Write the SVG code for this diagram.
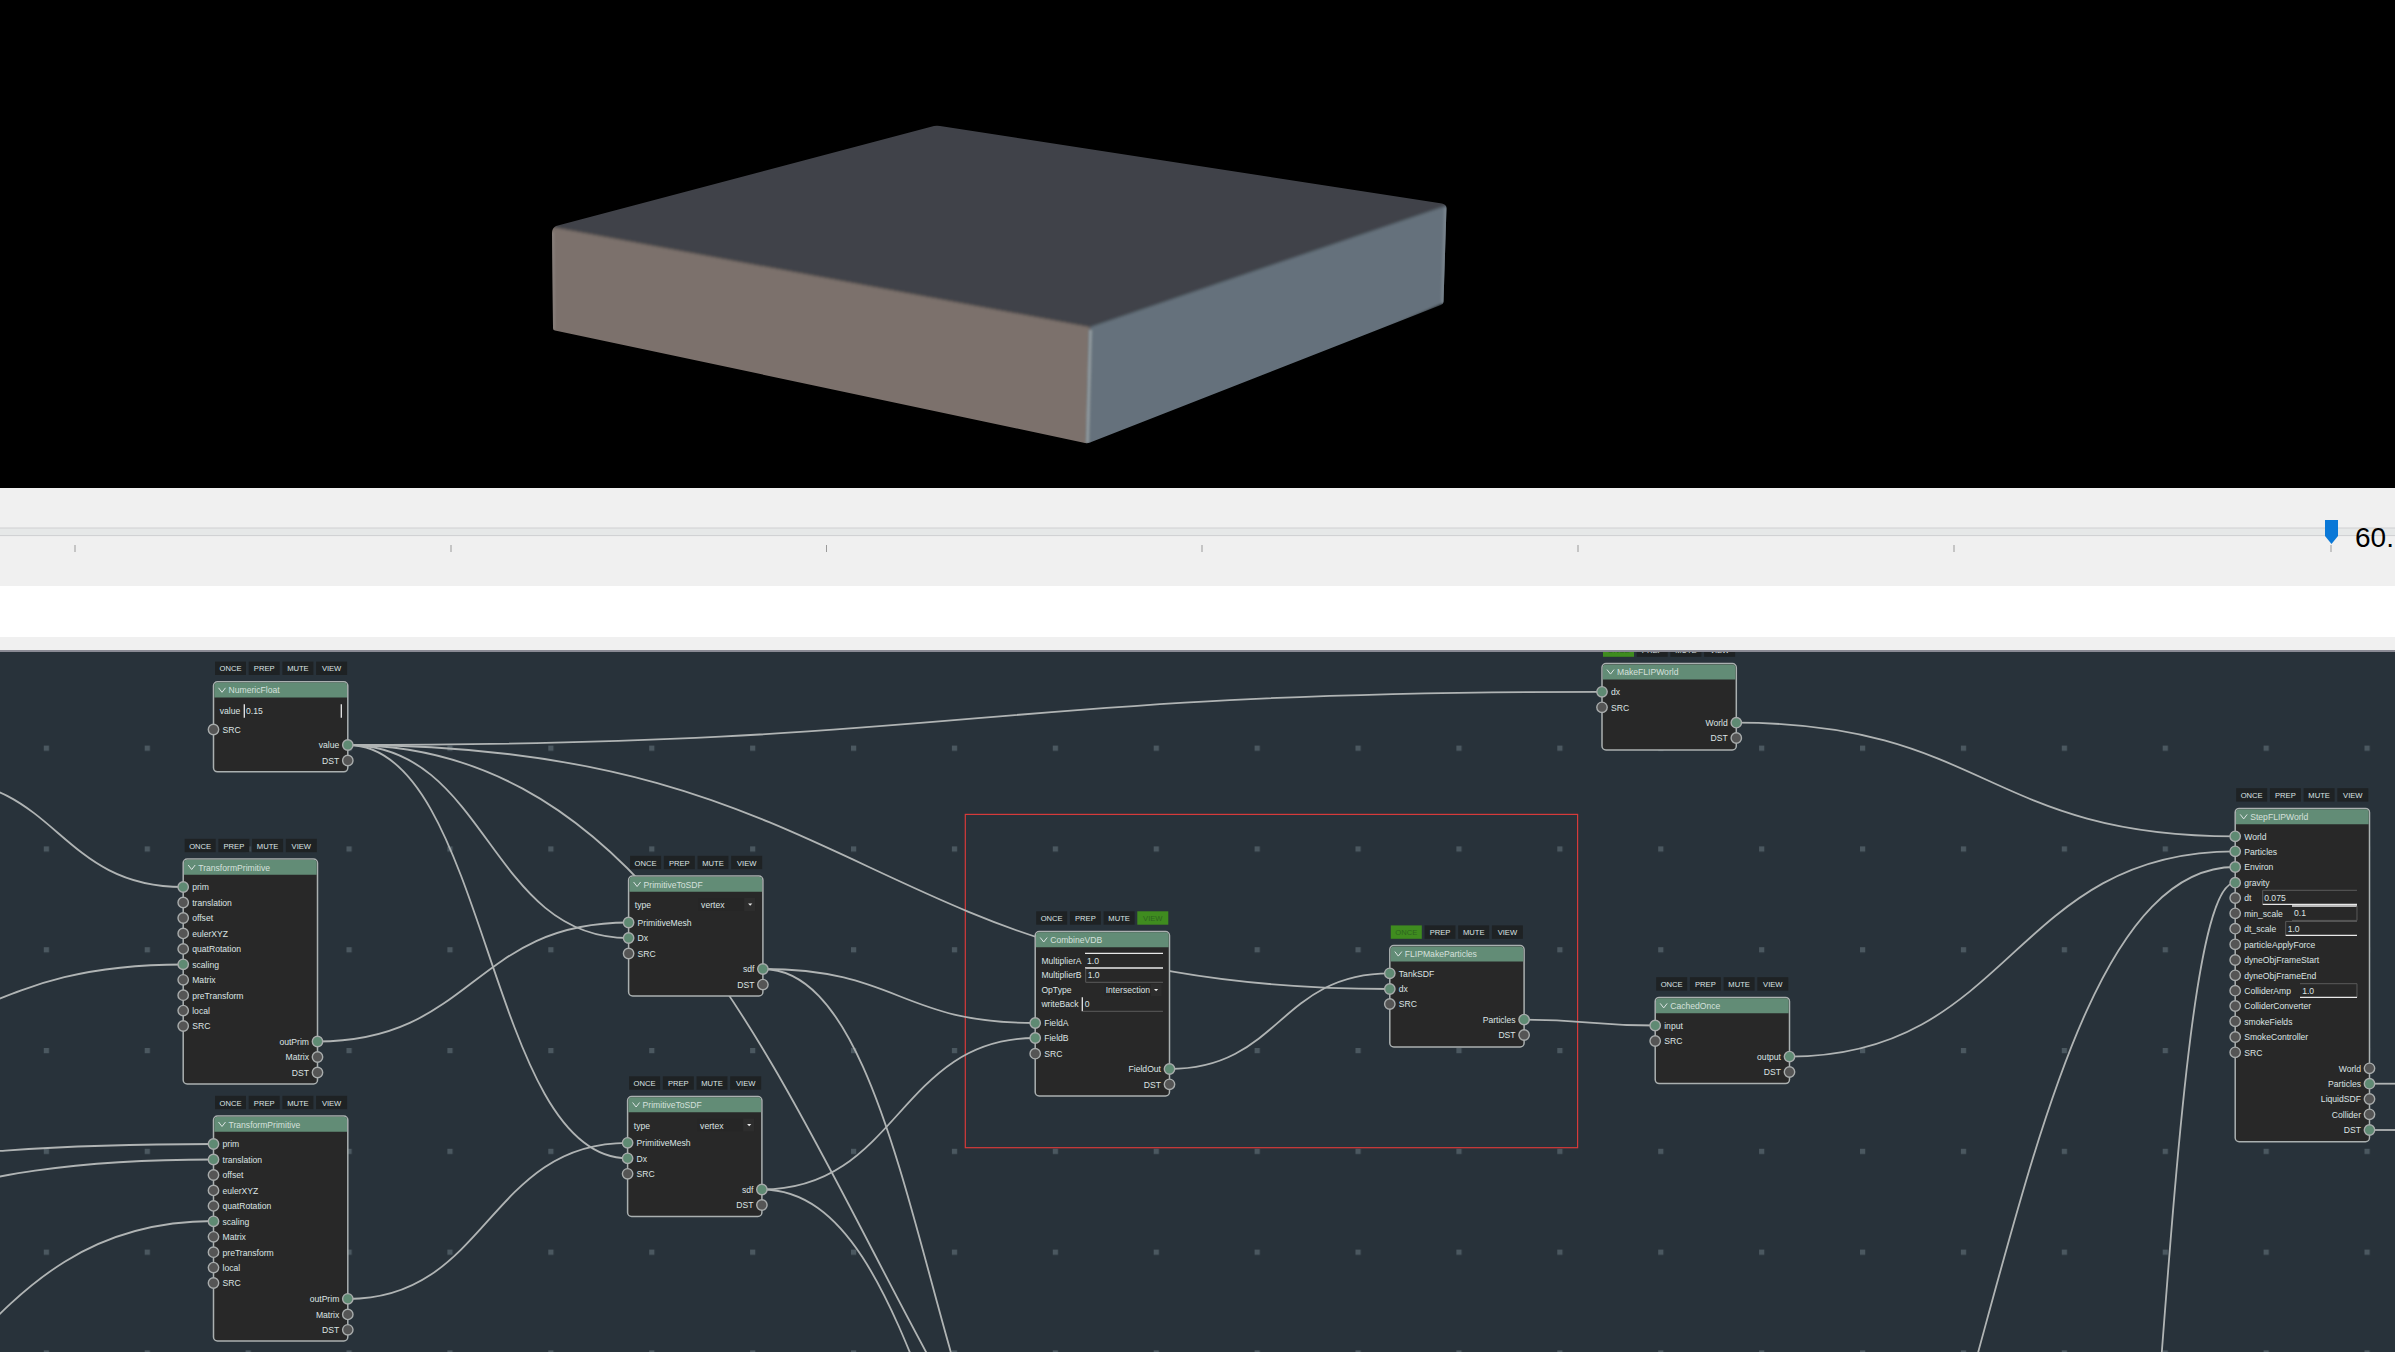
<svg xmlns="http://www.w3.org/2000/svg" width="2395" height="1352" viewBox="0 0 2395 1352">
<style>
text{font-family:"Liberation Sans",Arial,sans-serif;font-size:8.6px;fill:#dde4e4}
.btn{fill:#1e2224}.on{fill:#3f8c1f}
.bt{font-size:7.6px;text-anchor:middle}.bg{fill:#2e6420}
.body{fill:#282828;stroke:#aab0b0;stroke-width:1.5}
.head{fill:#628c76}
.hc{fill:none;stroke:#dde4e4;stroke-width:1}
.ht{fill:#d5e0dc}
.p{fill:#555;stroke:#a8acac;stroke-width:1.4}
.a{fill:#5f8a73;stroke:#a8acac;stroke-width:1.4}
.r{text-anchor:end}
.w{stroke:#e8e8e8;stroke-width:1.3;fill:none}
.g{stroke:#5a5a5a;stroke-width:1;fill:none}
.dd{fill:#262626;stroke:none}
.da{fill:#2d2d2d}
.ar{fill:#e8e8e8}
.e{fill:none;stroke:#b0b4b4;stroke-width:1.8}
.tick{stroke:#9a9a9a;stroke-width:1}
</style>
<defs>
<pattern id="dots" patternUnits="userSpaceOnUse" x="43.8" y="40" width="100.9" height="100.8"><rect width="5.2" height="5.2" fill="#4b5860"/></pattern>
<filter id="soft" x="-5%" y="-5%" width="110%" height="110%"><feGaussianBlur stdDeviation="1.8"/></filter>
<filter id="rim" x="-20%" y="-5%" width="140%" height="110%"><feGaussianBlur stdDeviation="0.9"/></filter>
<clipPath id="sil"><path d="M552,233Q552,228 556,226L934,126Q937,125.5 940,126L1442,203.5Q1446.5,204.5 1446.5,208L1443.5,302Q1443.5,304 1441,305L1090,442.5Q1087.5,443.5 1085,443L555,330.5Q553,330 553,328Z"/></clipPath>
</defs>

<rect id="viewport" x="0" y="0" width="2395" height="490" fill="#000"/>
<g id="box" clip-path="url(#sil)">
<g filter="url(#soft)">
<polygon points="540,224.4 1090,326.7 1087,460 540,345" fill="#7b716c"/>
<polygon points="1090,326.7 1475,195.4 1475,290 1087,460" fill="#65717b"/>
<polygon points="937,100 1475,195.4 1090,326.7 535,223.5" fill="#40434a"/>
</g>
<g filter="url(#rim)" fill="none">
<path d="M1090.5,330L1087.5,443" stroke="#8d979c" stroke-width="3.5"/>
<path d="M553,232L554,330" stroke="#8c8480" stroke-width="2"/>
<path d="M1445.5,208L1442.5,303" stroke="#7a858e" stroke-width="3"/>
</g>
</g>

<g id="canvas">
<rect x="0" y="652" width="2395" height="700" fill="#28323a"/>
<rect x="0" y="652" width="2395" height="700" fill="url(#dots)"/>
<rect id="frame" x="965.3" y="814.4" width="612.3" height="333.3" fill="none" stroke="#d63a3a" stroke-width="1.2"/>

<g id="connectors">
<path class="e" d="M348,745C975,745 975,691.8 1602,691.8"/>
<path class="e" d="M348,745C488.3,745 488.3,938 628.6,938"/>
<path class="e" d="M348,745C487.8,745 487.8,1158.3 627.6,1158.3"/>
<path class="e" d="M348,745C868.9,745 868.9,989 1389.8,989"/>
<path class="e" d="M348,745C874,745 874,1761 1400,1761"/>
<path class="e" d="M762.8,969C899,969 899,1023 1035.2,1023"/>
<path class="e" d="M762.8,969C931.4,969 931.4,1594 1100,1594"/>
<path class="e" d="M761.7,1189.5C898.5,1189.5 898.5,1038 1035.2,1038"/>
<path class="e" d="M761.7,1189.5C930.9,1189.5 930.9,1620 1100,1620"/>
<path class="e" d="M1169.5,1069C1279.7,1069 1279.7,973.3 1389.8,973.3"/>
<path class="e" d="M1524,1019.6C1589.6,1019.6 1589.6,1025.5 1655.2,1025.5"/>
<path class="e" d="M1789.4,1056.6C2012.3,1056.6 2012.3,851.3 2235.2,851.3"/>
<path class="e" d="M1736.3,722.7C1985.8,722.7 1985.8,836.3 2235.2,836.3"/>
<path class="e" d="M1735,1787C1985,1787 1985,867 2235.2,867"/>
<path class="e" d="M2085,1868C2160,1868 2160,882.7 2235.2,882.7"/>
<path class="e" d="M317.3,1041.5C473,1041.5 473,922.5 628.6,922.5"/>
<path class="e" d="M348,1299C487.8,1299 487.8,1142.8 627.6,1142.8"/>
<path class="e" d="M-67,779C58,779 58,887 183.2,887"/>
<path class="e" d="M-217,1046C-17,1046 -17,964.5 183.2,964.5"/>
<path class="e" d="M-487,1186C-137,1186 -137,1144 213.5,1144"/>
<path class="e" d="M-387,1231C-87,1231 -87,1159.5 213.5,1159.5"/>
<path class="e" d="M-287,1481C-37,1481 -37,1221 213.5,1221"/>
<path class="e" d="M2369.5,1083.7H2395"/>
<path class="e" d="M2369.5,1130H2395"/>
</g>

<g id="NumericFloat" transform="translate(213.5 681.8)">
<rect class="btn" x="1.5" y="-20.2" width="31" height="13.4"/><text class="bt" x="17" y="-10.4">ONCE</text>
<rect class="btn" x="35.2" y="-20.2" width="31" height="13.4"/><text class="bt" x="50.7" y="-10.4">PREP</text>
<rect class="btn" x="68.9" y="-20.2" width="31" height="13.4"/><text class="bt" x="84.4" y="-10.4">MUTE</text>
<rect class="btn" x="102.6" y="-20.2" width="31" height="13.4"/><text class="bt" x="118.1" y="-10.4">VIEW</text>
<rect class="body" width="134.3" height="90" rx="4"/>
<path class="head" d="M.8,15.8V4A3.2,3.2 0 0 1 4,.8H130.3A3.2,3.2 0 0 1 133.5,4V15.8Z"/>
<path class="hc" d="M5,6L8.5,10.5L12,6"/><text class="ht" x="15" y="11.5">NumericFloat</text>
<text x="6.2" y="32.5">value</text>
<path class="w" d="M30.8,22.5V36M127.8,22.5V36"/><text x="32.5" y="32.5">0.15</text>
<circle class="p" cx="0" cy="47.7" r="5.2"/><text x="9" y="51">SRC</text>
<circle class="a" cx="134.3" cy="63.2" r="5.2"/><text class="r" x="125.8" y="66.5">value</text>
<circle class="p" cx="134.3" cy="78.7" r="5.2"/><text class="r" x="125.8" y="82">DST</text>
</g>

<g id="TransformPrimitive1" transform="translate(183.2 859)">
<rect class="btn" x="1.5" y="-20.2" width="31" height="13.4"/><text class="bt" x="17" y="-10.4">ONCE</text>
<rect class="btn" x="35.2" y="-20.2" width="31" height="13.4"/><text class="bt" x="50.7" y="-10.4">PREP</text>
<rect class="btn" x="68.9" y="-20.2" width="31" height="13.4"/><text class="bt" x="84.4" y="-10.4">MUTE</text>
<rect class="btn" x="102.6" y="-20.2" width="31" height="13.4"/><text class="bt" x="118.1" y="-10.4">VIEW</text>
<rect class="body" width="134.3" height="225" rx="4"/>
<path class="head" d="M.8,15.8V4A3.2,3.2 0 0 1 4,.8H130.3A3.2,3.2 0 0 1 133.5,4V15.8Z"/>
<path class="hc" d="M5,6L8.5,10.5L12,6"/><text class="ht" x="15" y="11.5">TransformPrimitive</text>
<circle class="a" cx="0" cy="28" r="5.2"/><text x="9" y="31.3">prim</text>
<circle class="p" cx="0" cy="43.5" r="5.2"/><text x="9" y="46.8">translation</text>
<circle class="p" cx="0" cy="59" r="5.2"/><text x="9" y="62.3">offset</text>
<circle class="p" cx="0" cy="74.4" r="5.2"/><text x="9" y="77.7">eulerXYZ</text>
<circle class="p" cx="0" cy="89.9" r="5.2"/><text x="9" y="93.2">quatRotation</text>
<circle class="a" cx="0" cy="105.3" r="5.2"/><text x="9" y="108.6">scaling</text>
<circle class="p" cx="0" cy="120.8" r="5.2"/><text x="9" y="124.1">Matrix</text>
<circle class="p" cx="0" cy="136.2" r="5.2"/><text x="9" y="139.5">preTransform</text>
<circle class="p" cx="0" cy="151.6" r="5.2"/><text x="9" y="154.9">local</text>
<circle class="p" cx="0" cy="167" r="5.2"/><text x="9" y="170.3">SRC</text>
<circle class="a" cx="134.3" cy="182.5" r="5.2"/><text class="r" x="125.8" y="185.8">outPrim</text>
<circle class="p" cx="134.3" cy="198" r="5.2"/><text class="r" x="125.8" y="201.3">Matrix</text>
<circle class="p" cx="134.3" cy="213.5" r="5.2"/><text class="r" x="125.8" y="216.8">DST</text>
</g>

<g id="TransformPrimitive2" transform="translate(213.5 1116)">
<rect class="btn" x="1.5" y="-20.2" width="31" height="13.4"/><text class="bt" x="17" y="-10.4">ONCE</text>
<rect class="btn" x="35.2" y="-20.2" width="31" height="13.4"/><text class="bt" x="50.7" y="-10.4">PREP</text>
<rect class="btn" x="68.9" y="-20.2" width="31" height="13.4"/><text class="bt" x="84.4" y="-10.4">MUTE</text>
<rect class="btn" x="102.6" y="-20.2" width="31" height="13.4"/><text class="bt" x="118.1" y="-10.4">VIEW</text>
<rect class="body" width="134.3" height="225" rx="4"/>
<path class="head" d="M.8,15.8V4A3.2,3.2 0 0 1 4,.8H130.3A3.2,3.2 0 0 1 133.5,4V15.8Z"/>
<path class="hc" d="M5,6L8.5,10.5L12,6"/><text class="ht" x="15" y="11.5">TransformPrimitive</text>
<circle class="a" cx="0" cy="28" r="5.2"/><text x="9" y="31.3">prim</text>
<circle class="a" cx="0" cy="43.5" r="5.2"/><text x="9" y="46.8">translation</text>
<circle class="p" cx="0" cy="59" r="5.2"/><text x="9" y="62.3">offset</text>
<circle class="p" cx="0" cy="74.4" r="5.2"/><text x="9" y="77.7">eulerXYZ</text>
<circle class="p" cx="0" cy="89.9" r="5.2"/><text x="9" y="93.2">quatRotation</text>
<circle class="a" cx="0" cy="105.3" r="5.2"/><text x="9" y="108.6">scaling</text>
<circle class="p" cx="0" cy="120.8" r="5.2"/><text x="9" y="124.1">Matrix</text>
<circle class="p" cx="0" cy="136.2" r="5.2"/><text x="9" y="139.5">preTransform</text>
<circle class="p" cx="0" cy="151.6" r="5.2"/><text x="9" y="154.9">local</text>
<circle class="p" cx="0" cy="167" r="5.2"/><text x="9" y="170.3">SRC</text>
<circle class="a" cx="134.3" cy="182.8" r="5.2"/><text class="r" x="125.8" y="186.1">outPrim</text>
<circle class="p" cx="134.3" cy="198.4" r="5.2"/><text class="r" x="125.8" y="201.7">Matrix</text>
<circle class="p" cx="134.3" cy="213.8" r="5.2"/><text class="r" x="125.8" y="217.1">DST</text>
</g>

<g id="PrimitiveToSDF1" transform="translate(628.6 876)">
<rect class="btn" x="1.5" y="-20.2" width="31" height="13.4"/><text class="bt" x="17" y="-10.4">ONCE</text>
<rect class="btn" x="35.2" y="-20.2" width="31" height="13.4"/><text class="bt" x="50.7" y="-10.4">PREP</text>
<rect class="btn" x="68.9" y="-20.2" width="31" height="13.4"/><text class="bt" x="84.4" y="-10.4">MUTE</text>
<rect class="btn" x="102.6" y="-20.2" width="31" height="13.4"/><text class="bt" x="118.1" y="-10.4">VIEW</text>
<rect class="body" width="134.3" height="120" rx="4"/>
<path class="head" d="M.8,15.8V4A3.2,3.2 0 0 1 4,.8H130.3A3.2,3.2 0 0 1 133.5,4V15.8Z"/>
<path class="hc" d="M5,6L8.5,10.5L12,6"/><text class="ht" x="15" y="11.5">PrimitiveToSDF</text>
<text x="6.2" y="32">type</text>
<rect class="dd" x="69.5" y="22" width="57" height="13"/><rect class="da" x="115.5" y="22" width="11" height="13"/>
<text x="72.5" y="32">vertex</text><path class="ar" d="M119.5,27.5h4.2l-2.1,2.3z"/>
<circle class="a" cx="0" cy="46.5" r="5.2"/><text x="9" y="49.8">PrimitiveMesh</text>
<circle class="a" cx="0" cy="62" r="5.2"/><text x="9" y="65.3">Dx</text>
<circle class="p" cx="0" cy="77.5" r="5.2"/><text x="9" y="80.8">SRC</text>
<circle class="a" cx="134.3" cy="93" r="5.2"/><text class="r" x="125.8" y="96.3">sdf</text>
<circle class="p" cx="134.3" cy="108.6" r="5.2"/><text class="r" x="125.8" y="111.9">DST</text>
</g>

<g id="PrimitiveToSDF2" transform="translate(627.6 1096.5)">
<rect class="btn" x="1.5" y="-20.2" width="31" height="13.4"/><text class="bt" x="17" y="-10.4">ONCE</text>
<rect class="btn" x="35.2" y="-20.2" width="31" height="13.4"/><text class="bt" x="50.7" y="-10.4">PREP</text>
<rect class="btn" x="68.9" y="-20.2" width="31" height="13.4"/><text class="bt" x="84.4" y="-10.4">MUTE</text>
<rect class="btn" x="102.6" y="-20.2" width="31" height="13.4"/><text class="bt" x="118.1" y="-10.4">VIEW</text>
<rect class="body" width="134.3" height="120" rx="4"/>
<path class="head" d="M.8,15.8V4A3.2,3.2 0 0 1 4,.8H130.3A3.2,3.2 0 0 1 133.5,4V15.8Z"/>
<path class="hc" d="M5,6L8.5,10.5L12,6"/><text class="ht" x="15" y="11.5">PrimitiveToSDF</text>
<text x="6.2" y="32">type</text>
<rect class="dd" x="69.5" y="22" width="57" height="13"/><rect class="da" x="115.5" y="22" width="11" height="13"/>
<text x="72.5" y="32">vertex</text><path class="ar" d="M119.5,27.5h4.2l-2.1,2.3z"/>
<circle class="a" cx="0" cy="46.3" r="5.2"/><text x="9" y="49.6">PrimitiveMesh</text>
<circle class="a" cx="0" cy="61.8" r="5.2"/><text x="9" y="65.1">Dx</text>
<circle class="p" cx="0" cy="77.3" r="5.2"/><text x="9" y="80.6">SRC</text>
<circle class="a" cx="134.3" cy="93" r="5.2"/><text class="r" x="125.8" y="96.3">sdf</text>
<circle class="p" cx="134.3" cy="108.5" r="5.2"/><text class="r" x="125.8" y="111.8">DST</text>
</g>

<g id="CombineVDB" transform="translate(1035.2 931.5)">
<rect class="btn" x="1" y="-20.2" width="31" height="13.4"/><text class="bt" x="16.5" y="-10.4">ONCE</text>
<rect class="btn" x="34.7" y="-20.2" width="31" height="13.4"/><text class="bt" x="50.2" y="-10.4">PREP</text>
<rect class="btn" x="68.4" y="-20.2" width="31" height="13.4"/><text class="bt" x="83.9" y="-10.4">MUTE</text>
<rect class="on" x="102.1" y="-20.2" width="31" height="13.4"/><text class="bt bg" x="117.6" y="-10.4">VIEW</text>
<rect class="body" width="134.3" height="164.5" rx="4"/>
<path class="head" d="M.8,15.8V4A3.2,3.2 0 0 1 4,.8H130.3A3.2,3.2 0 0 1 133.5,4V15.8Z"/>
<path class="hc" d="M5,6L8.5,10.5L12,6"/><text class="ht" x="15" y="11.5">CombineVDB</text>
<text x="6.2" y="32.2">MultiplierA</text><text x="6.2" y="46.5">MultiplierB</text><text x="6.2" y="61.8">OpType</text><text x="6.2" y="75.5">writeBack</text>
<path class="w" d="M49.8,21.8H127.8"/><path class="w" d="M49.8,36.5H127.8" stroke-width="1.8"/><text x="51.8" y="32.2">1.0</text>
<path class="g" d="M50.5,37V50.8H127.8"/><text x="52.5" y="46.5">1.0</text>
<rect class="dd" x="69.5" y="52.5" width="57" height="12"/><rect class="da" x="115.5" y="52.5" width="11" height="12"/>
<text x="70.5" y="61.8">Intersection</text><path class="ar" d="M118.8,57.5h4.2l-2.1,2.3z"/>
<path class="w" d="M47.1,65.8V79.8"/><path class="g" d="M47.6,79.8H127.8"/><text x="49.5" y="75.5">0</text>
<circle class="a" cx="0" cy="91.5" r="5.2"/><text x="9" y="94.8">FieldA</text>
<circle class="a" cx="0" cy="106.5" r="5.2"/><text x="9" y="109.8">FieldB</text>
<circle class="p" cx="0" cy="122.2" r="5.2"/><text x="9" y="125.5">SRC</text>
<circle class="a" cx="134.3" cy="137.5" r="5.2"/><text class="r" x="125.8" y="140.8">FieldOut</text>
<circle class="p" cx="134.3" cy="152.8" r="5.2"/><text class="r" x="125.8" y="156.1">DST</text>
</g>

<g id="FLIPMakeParticles" transform="translate(1389.8 945.6)">
<rect class="on" x="1" y="-20.2" width="31" height="13.4"/><text class="bt bg" x="16.5" y="-10.4">ONCE</text>
<rect class="btn" x="34.7" y="-20.2" width="31" height="13.4"/><text class="bt" x="50.2" y="-10.4">PREP</text>
<rect class="btn" x="68.4" y="-20.2" width="31" height="13.4"/><text class="bt" x="83.9" y="-10.4">MUTE</text>
<rect class="btn" x="102.1" y="-20.2" width="31" height="13.4"/><text class="bt" x="117.6" y="-10.4">VIEW</text>
<rect class="body" width="134.3" height="101.4" rx="4"/>
<path class="head" d="M.8,15.8V4A3.2,3.2 0 0 1 4,.8H130.3A3.2,3.2 0 0 1 133.5,4V15.8Z"/>
<path class="hc" d="M5,6L8.5,10.5L12,6"/><text class="ht" x="15" y="11.5">FLIPMakeParticles</text>
<circle class="a" cx="0" cy="27.7" r="5.2"/><text x="9" y="31">TankSDF</text>
<circle class="a" cx="0" cy="43.4" r="5.2"/><text x="9" y="46.7">dx</text>
<circle class="p" cx="0" cy="58.4" r="5.2"/><text x="9" y="61.7">SRC</text>
<circle class="a" cx="134.3" cy="74" r="5.2"/><text class="r" x="125.8" y="77.3">Particles</text>
<circle class="p" cx="134.3" cy="89.4" r="5.2"/><text class="r" x="125.8" y="92.7">DST</text>
</g>

<g id="MakeFLIPWorld" transform="translate(1602 663.6)">
<rect class="on" x="1" y="-20.2" width="31" height="13.4"/><text class="bt bg" x="16.5" y="-10.4">ONCE</text>
<rect class="btn" x="34.7" y="-20.2" width="31" height="13.4"/><text class="bt" x="50.2" y="-10.4">PREP</text>
<rect class="btn" x="68.4" y="-20.2" width="31" height="13.4"/><text class="bt" x="83.9" y="-10.4">MUTE</text>
<rect class="btn" x="102.1" y="-20.2" width="31" height="13.4"/><text class="bt" x="117.6" y="-10.4">VIEW</text>
<rect class="body" width="134.3" height="86.4" rx="4"/>
<path class="head" d="M.8,15.8V4A3.2,3.2 0 0 1 4,.8H130.3A3.2,3.2 0 0 1 133.5,4V15.8Z"/>
<path class="hc" d="M5,6L8.5,10.5L12,6"/><text class="ht" x="15" y="11.5">MakeFLIPWorld</text>
<circle class="a" cx="0" cy="28.2" r="5.2"/><text x="9" y="31.5">dx</text>
<circle class="p" cx="0" cy="43.7" r="5.2"/><text x="9" y="47">SRC</text>
<circle class="a" cx="134.3" cy="59.1" r="5.2"/><text class="r" x="125.8" y="62.4">World</text>
<circle class="p" cx="134.3" cy="74.4" r="5.2"/><text class="r" x="125.8" y="77.7">DST</text>
</g>

<g id="CachedOnce" transform="translate(1655.2 997.4)">
<rect class="btn" x="1" y="-20.2" width="31" height="13.4"/><text class="bt" x="16.5" y="-10.4">ONCE</text>
<rect class="btn" x="34.7" y="-20.2" width="31" height="13.4"/><text class="bt" x="50.2" y="-10.4">PREP</text>
<rect class="btn" x="68.4" y="-20.2" width="31" height="13.4"/><text class="bt" x="83.9" y="-10.4">MUTE</text>
<rect class="btn" x="102.1" y="-20.2" width="31" height="13.4"/><text class="bt" x="117.6" y="-10.4">VIEW</text>
<rect class="body" width="134.3" height="86.2" rx="4"/>
<path class="head" d="M.8,15.8V4A3.2,3.2 0 0 1 4,.8H130.3A3.2,3.2 0 0 1 133.5,4V15.8Z"/>
<path class="hc" d="M5,6L8.5,10.5L12,6"/><text class="ht" x="15" y="11.5">CachedOnce</text>
<circle class="a" cx="0" cy="28.1" r="5.2"/><text x="9" y="31.4">input</text>
<circle class="p" cx="0" cy="43.6" r="5.2"/><text x="9" y="46.9">SRC</text>
<circle class="a" cx="134.3" cy="59.2" r="5.2"/><text class="r" x="125.8" y="62.5">output</text>
<circle class="p" cx="134.3" cy="74.6" r="5.2"/><text class="r" x="125.8" y="77.9">DST</text>
</g>

<g id="StepFLIPWorld" transform="translate(2235.2 808.4)">
<rect class="btn" x="1" y="-20.2" width="31" height="13.4"/><text class="bt" x="16.5" y="-10.4">ONCE</text>
<rect class="btn" x="34.7" y="-20.2" width="31" height="13.4"/><text class="bt" x="50.2" y="-10.4">PREP</text>
<rect class="btn" x="68.4" y="-20.2" width="31" height="13.4"/><text class="bt" x="83.9" y="-10.4">MUTE</text>
<rect class="btn" x="102.1" y="-20.2" width="31" height="13.4"/><text class="bt" x="117.6" y="-10.4">VIEW</text>
<rect class="body" width="134.3" height="333.3" rx="4"/>
<path class="head" d="M.8,15.8V4A3.2,3.2 0 0 1 4,.8H130.3A3.2,3.2 0 0 1 133.5,4V15.8Z"/>
<path class="hc" d="M5,6L8.5,10.5L12,6"/><text class="ht" x="15" y="11.5">StepFLIPWorld</text>
<circle class="a" cx="0" cy="27.9" r="5.2"/><text x="9" y="31.2">World</text>
<circle class="a" cx="0" cy="42.9" r="5.2"/><text x="9" y="46.2">Particles</text>
<circle class="a" cx="0" cy="58.6" r="5.2"/><text x="9" y="61.9">Environ</text>
<circle class="a" cx="0" cy="74.3" r="5.2"/><text x="9" y="77.6">gravity</text>
<circle class="p" cx="0" cy="89.6" r="5.2"/><text x="9" y="92.9">dt</text>
<path class="g" d="M27.5,95.5V81.9H121.8"/><path class="w" d="M27.5,95.9H121.8" stroke-width="1.8"/><text x="29" y="92.3">0.075</text>
<circle class="p" cx="0" cy="104.9" r="5.2"/><text x="9" y="108.2">min_scale</text>
<path class="w" d="M56.8,97.6H121.8"/><path class="g" d="M121.8,97.6V112H56.8"/><text x="58.8" y="107.6">0.1</text>
<circle class="p" cx="0" cy="120.3" r="5.2"/><text x="9" y="123.6">dt_scale</text>
<path class="g" d="M121.8,113H50.5V127"/><path class="w" d="M50.5,127H121.8"/><text x="52.5" y="123.6">1.0</text>
<circle class="p" cx="0" cy="135.9" r="5.2"/><text x="9" y="139.2">particleApplyForce</text>
<circle class="p" cx="0" cy="151.6" r="5.2"/><text x="9" y="154.9">dyneObjFrameStart</text>
<circle class="p" cx="0" cy="166.9" r="5.2"/><text x="9" y="170.2">dyneObjFrameEnd</text>
<circle class="p" cx="0" cy="182.3" r="5.2"/><text x="9" y="185.6">ColliderAmp</text>
<path class="g" d="M64.8,175.3H121.8V189"/><path class="w" d="M64.8,189H121.8"/><text x="67" y="185.6">1.0</text>
<circle class="p" cx="0" cy="197.6" r="5.2"/><text x="9" y="200.9">ColliderConverter</text>
<circle class="p" cx="0" cy="212.9" r="5.2"/><text x="9" y="216.2">smokeFields</text>
<circle class="p" cx="0" cy="228.6" r="5.2"/><text x="9" y="231.9">SmokeController</text>
<circle class="p" cx="0" cy="243.9" r="5.2"/><text x="9" y="247.2">SRC</text>
<circle class="p" cx="134.3" cy="259.9" r="5.2"/><text class="r" x="125.8" y="263.2">World</text>
<circle class="a" cx="134.3" cy="275.3" r="5.2"/><text class="r" x="125.8" y="278.6">Particles</text>
<circle class="p" cx="134.3" cy="290.6" r="5.2"/><text class="r" x="125.8" y="293.9">LiquidSDF</text>
<circle class="p" cx="134.3" cy="305.9" r="5.2"/><text class="r" x="125.8" y="309.2">Collider</text>
<circle class="a" cx="134.3" cy="321.6" r="5.2"/><text class="r" x="125.8" y="324.9">DST</text>
</g>
</g>

<g id="timeline">
<rect x="0" y="488" width="2395" height="98" fill="#f0f0f0"/>
<rect x="-3" y="528" width="2401" height="7.6" fill="#e6e8e8" stroke="#cfd0d2" stroke-width="1"/>
<path class="tick" d="M75,545V552M451,545V552M826.5,545V552M1202,545V552M1578,545V552M1954,545V552M2331,545V552"/>
<path d="M2325,520H2338V536L2331.5,544L2325,536Z" fill="#0a78d7"/>
<text x="2355" y="547" style="font-size:28px;fill:#000">60.</text>
</g>
<g id="panel">
<rect x="0" y="586" width="2395" height="51" fill="#fff"/>
<rect x="0" y="637" width="2395" height="13" fill="#f0f0f0"/>
<rect x="0" y="650" width="2395" height="2" fill="#8a8a94"/>
</g>
</svg>
